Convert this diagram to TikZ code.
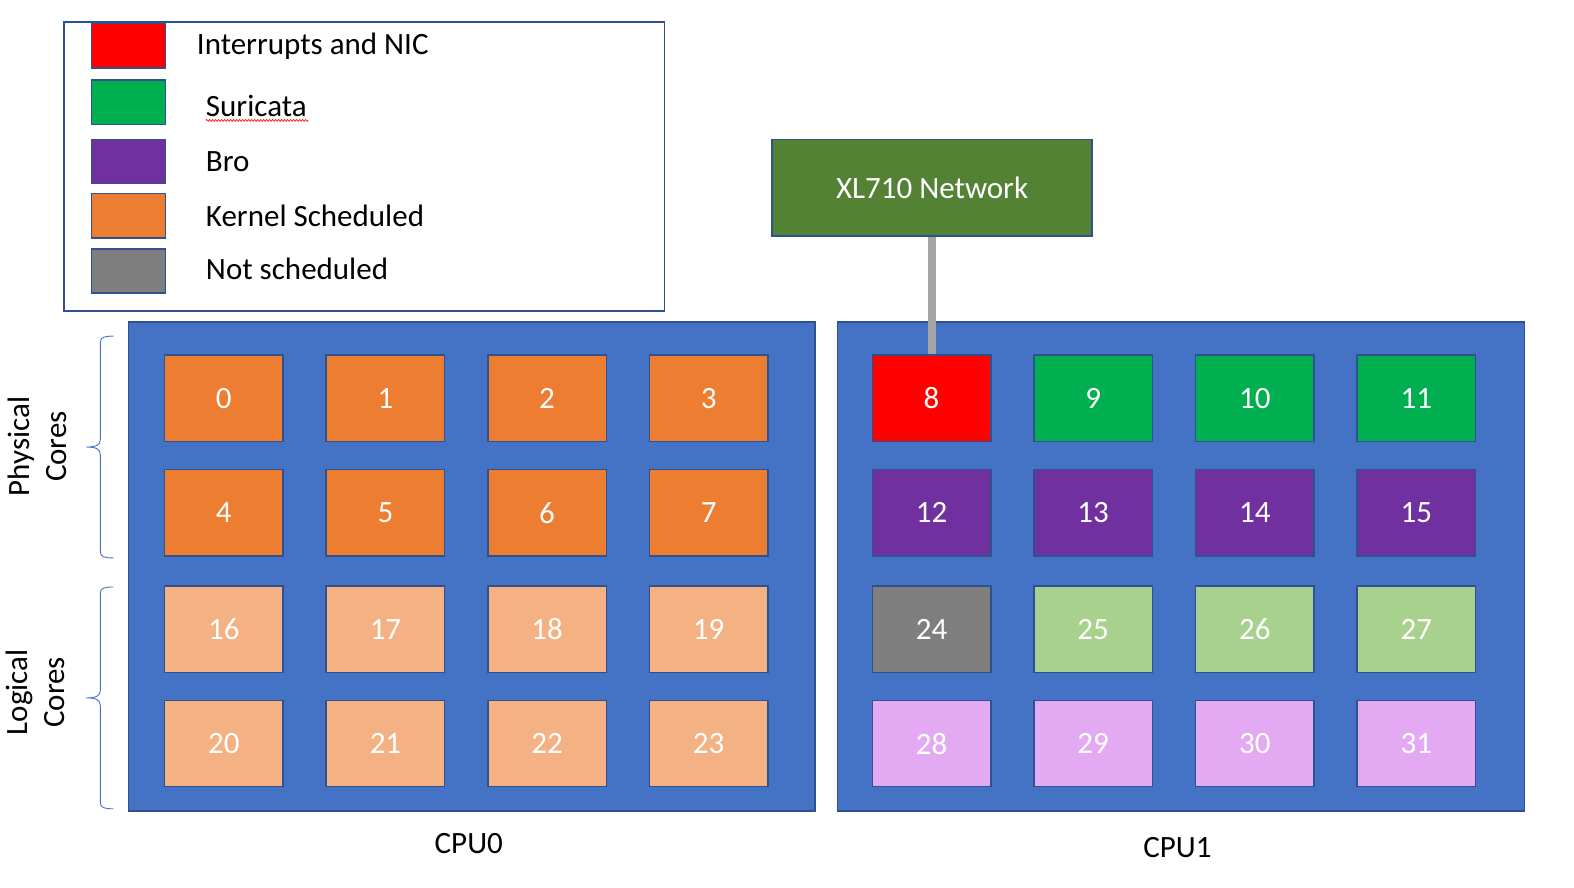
\documentclass[tikz,border=0pt]{standalone}
\usepackage{fontspec}
\setmainfont{Carlito}
\usepackage{xcolor}
\usepackage{tikz}
\usetikzlibrary{positioning,calc,decorations.pathmorphing}

\definecolor{frameblue}{HTML}{2F528F}
\definecolor{cpublue}{HTML}{4472C4}
\definecolor{kernel}{HTML}{ED7D31}
\definecolor{kernelht}{HTML}{F4B183}
\definecolor{nic}{HTML}{FF0000}
\definecolor{suricata}{HTML}{00B050}
\definecolor{suricataht}{HTML}{A9D18E}
\definecolor{bro}{HTML}{7030A0}
\definecolor{broht}{HTML}{E3AAF3}
\definecolor{idle}{HTML}{7F7F7F}
\definecolor{netgreen}{HTML}{548235}
\definecolor{linkgray}{HTML}{A5A5A5}

\tikzset{
  every node/.style={font=\fontsize{31}{37}\selectfont},
  cpubox/.style={draw=frameblue, line width=1.5pt, fill=cpublue, minimum width=686.6pt, minimum height=488.7pt},
  core/.style={draw=frameblue, line width=1.5pt, minimum width=118.5pt, minimum height=86.3pt, text=white, inner sep=0pt},
  swatch/.style={draw=frameblue, line width=1.5pt, minimum width=74.3pt, minimum height=44.2pt, inner sep=0pt},
  legendtext/.style={anchor=west, inner sep=0pt},
  bracket/.style={draw=cpublue, line width=0.9pt},
}

\begin{document}
\begin{tikzpicture}[x=1.0038pt, y=-1.0034pt]
    \useasboundingbox (0,0) rectangle (1568,884);

    % legend
    \node [draw=frameblue, line width=1.5pt, minimum width=600.3pt, minimum height=289pt] (legend) at (363,166) {};
    \node [swatch, fill=nic] (sw1) at (128,45.5) {};      \node [legendtext] (lt1) at (196,46) {Interrupts and NIC};
    \node [swatch, fill=suricata] (sw2) at (128,102) {};  \node [legendtext] (lt2) at (205,106) {Suricata};
    \node [swatch, fill=bro] (sw3) at (128,161) {};       \node [legendtext] (lt3) at (205,161) {Bro};
    \node [swatch, fill=kernel] (sw4) at (128,215) {};    \node [legendtext] (lt4) at (205,215) {Kernel Scheduled};
    \node [swatch, fill=idle] (sw5) at (128,270) {};      \node [legendtext] (lt5) at (205,268) {Not scheduled};
    \draw [red, line width=0.6pt, decorate, decoration={snake, amplitude=1pt, segment length=3pt}] (205,120) -- (307,120);

    % the two sockets
    \node [cpubox] (cpu0) at (470,564.5) {};
    \node [cpubox] (cpu1) at (1176.5,564.5) {};
    \node (cpu0label) at (467,841) {CPU0};
    \node (cpu1label) at (1173,845) {CPU1};

    % cores
    \foreach \y/\m/\k/\ca/\cb in {397/0/8/kernel/suricata, 511/4/12/kernel/bro, 627/16/24/kernelht/suricataht, 741/20/28/kernelht/broht} {
      \foreach \i in {0,...,3} {
        \pgfmathtruncatemacro\na{\m+\i}
        \pgfmathtruncatemacro\nb{\k+\i}
        \node [core, fill=\ca] (c\na) at (223+161*\i,\y) {\na};
        \node [core, fill=\cb] (c\nb) at (928+161*\i,\y) {\nb};
      }
    }
    \node [core, fill=nic] (c8) at (928,397) {8};
    \node [core, fill=idle] (c24) at (928,627) {24};

    % network card
    \node [draw=frameblue, line width=1.5pt, fill=netgreen, text=white, minimum width=320.2pt, minimum height=96.3pt] (xl710) at (928.5,187) {XL710 Network};
    \draw [linkgray, line width=8pt] (xl710.south) -- (xl710.south |- c8.north);

    % braces
    \foreach \t/\b in {335/556, 585/806} {
      \pgfmathsetmacro\mid{(\t+\b)/2}
      \draw [bracket] (113,\t) .. controls (104,\t) and (100,\t+1) .. (100,\t+6) -- (100,\mid-8)
        .. controls (100,\mid-2) and (96,\mid) .. (86,\mid) .. controls (96,\mid) and (100,\mid+2) .. (100,\mid+8)
        -- (100,\b-6) .. controls (100,\b-1) and (104,\b) .. (113,\b);
    }
    \node [rotate=90, align=center] (phys) at (37,445) {Physical\\Cores};
    \node [rotate=90, align=center] (logi) at (35,690) {Logical\\Cores};
\end{tikzpicture}
\end{document}
